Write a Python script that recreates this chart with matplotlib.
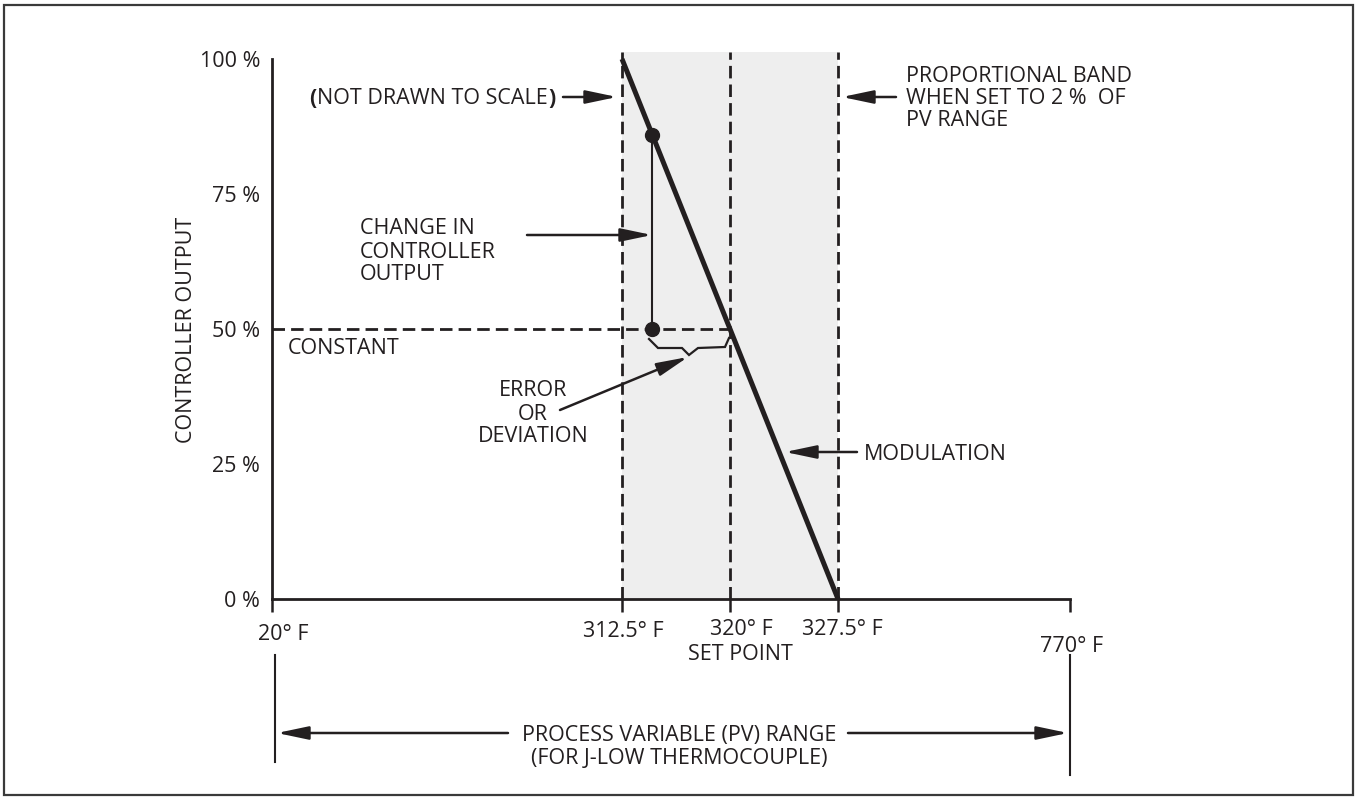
import numpy as np
import matplotlib.pyplot as plt
from matplotlib.lines import Line2D
from matplotlib.patches import Rectangle
from matplotlib.transforms import ScaledTranslation

plt.rcParams['font.family'] = ['Open Sans', 'DejaVu Sans']
plt.rcParams['font.size'] = 15.5
INK = '#231f20'

# chart values
pv_ticks = [20, 312.5, 320, 327.5, 770]
pv_tick_labels = ['20° F', '312.5° F', '320° F', '327.5° F', '']
out_ticks = [0, 25, 50, 75, 100]
out_tick_labels = ['0 %', '25 %', '50 %', '75 %', '100 %']
band_pv = [312.5, 327.5]      # proportional band edges (2 % of PV range)
band_out = [100, 0]           # modulation line: output at band edges
set_point = 320
constant_out = 50
dev_pv = 314.6                # measured PV for the example point
dev_out = 86                  # controller output at that PV

# not drawn to scale: where the PV values sit along the axis (fraction of width)
scale_pv = [20, 312.5, 327.5, 770]
scale_pos = [0, 0.4386, 0.7093, 1]


def fwd(v):
    return np.interp(v, scale_pv, scale_pos)


def inv(p):
    return np.interp(p, scale_pos, scale_pv)


W, H = 1357, 798
fig = plt.figure(figsize=(W / 100, H / 100), dpi=100)

ax = fig.add_axes([272 / W, 1 - 599 / H, 798 / W, 540 / H])
ax.set_xscale('function', functions=(fwd, inv))
ax.set_xlim(20, 770)
ax.set_ylim(0, 100)
ax.patch.set_visible(False)

for s in ['top', 'right']:
    ax.spines[s].set_visible(False)
for s in ['left', 'bottom']:
    ax.spines[s].set_linewidth(2)
    ax.spines[s].set_color(INK)

ax.set_xticks(pv_ticks)
ax.set_xticklabels(pv_tick_labels)
ax.set_yticks(out_ticks)
ax.set_yticklabels(out_tick_labels)
ax.tick_params(axis='x', direction='out', length=9, width=1.8, color=INK,
               pad=7, labelcolor=INK)
ax.tick_params(axis='y', length=0, pad=8.6, labelcolor=INK)

# small nudges of the x tick labels (pixels right, pixels down)
for lab, (dx, dy) in zip(ax.get_xticklabels(),
                         [(11, 3), (1, 0), (11, -2), (4, -2), (0, 0)]):
    lab.set_transform(lab.get_transform() +
                      ScaledTranslation(dx / 100, -dy / 100,
                                        fig.dpi_scale_trans))

dash = (0, (4.5, 2.2))

# proportional band
ax.axvspan(*band_pv, ymin=0, ymax=1.013, color='#eeeeee', lw=0, zorder=0,
           clip_on=False)
ax.vlines(band_pv + [set_point], 0, 101.3, colors=INK, lw=2, linestyles=dash,
          clip_on=False, zorder=1)
ax.hlines(constant_out, 20, set_point, colors=INK, lw=2, linestyles=dash,
          zorder=1)

# modulation line
ax.plot(band_pv, band_out, color=INK, lw=3.6, solid_capstyle='butt',
        clip_on=False, zorder=3)

# change in output
ax.plot([dev_pv, dev_pv], [constant_out, dev_out], color=INK, lw=1.5, zorder=3)
ax.plot([dev_pv, dev_pv], [constant_out, dev_out], 'o', ms=10, color=INK,
        zorder=4)


def label(x, y, s, ha='left', **kw):
    # y is the centre of the capitals, in pixels from the top
    return fig.text(x / W, 1 - (y + 7.5) / H, s, ha=ha, va='baseline',
                    color=INK, **kw)


def arrow(x0, y0, x1, y1):
    ax.annotate('', xy=(x1, H - y1), xytext=(x0, H - y0),
                xycoords='figure pixels', textcoords='figure pixels',
                annotation_clip=False,
                arrowprops=dict(arrowstyle='-|>,head_length=0.95,head_width=0.2',
                                lw=1.8, color=INK, shrinkA=0, shrinkB=0,
                                mutation_scale=20))


def seg(xs, ys, lw=1.6):
    fig.add_artist(Line2D([x / W for x in xs], [1 - y / H for y in ys],
                          transform=fig.transFigure, color=INK, lw=lw,
                          solid_joinstyle='miter'))


# error brace
seg([649, 658, 682, 689, 698, 725, 729], [339, 348, 348, 355, 348, 347, 338])

# annotations
main = label(548, 97, 'NOT DRAWN TO SCALE', ha='right')
ax.annotate('(', xy=(0, 0), xycoords=main, xytext=(-0.5, 0),
            textcoords='offset points', ha='right', va='bottom',
            fontweight='bold', color=INK)
ax.annotate(')', xy=(1, 0), xycoords=main, xytext=(0, 0),
            textcoords='offset points', ha='left', va='bottom',
            fontweight='bold', color=INK)
arrow(563, 97, 617, 97)

for y, s in zip([75, 97, 119], ['PROPORTIONAL BAND', 'WHEN SET TO 2 %  OF',
                                'PV RANGE']):
    label(906, y, s)
arrow(896, 97, 842, 97)

for y, s in zip([226, 250, 273], ['CHANGE IN', 'CONTROLLER', 'OUTPUT']):
    label(360, y, s)
arrow(527, 235, 652, 235)

label(288, 347, 'CONSTANT')

for y, s in zip([388, 412, 435], ['ERROR', 'OR', 'DEVIATION']):
    label(533, y, s, ha='center')
arrow(560, 410, 688, 357)

label(864, 452, 'MODULATION')
arrow(857, 452, 785, 452)

fig.text(186 / W, 1 - 330 / H, 'CONTROLLER OUTPUT', rotation=90, ha='center',
         va='center', color=INK)

label(740, 652, 'SET POINT', ha='center')
label(1072, 645, '770° F', ha='center')

# PV range
seg([275, 275], [655, 762], lw=1.5)
seg([1070, 1070], [655, 775], lw=1.5)
label(679, 733, 'PROCESS VARIABLE (PV) RANGE', ha='center')
label(679, 757, '(FOR J-LOW THERMOCOUPLE)', ha='center')
arrow(508, 733, 277, 733)
arrow(848, 733, 1068, 733)

# outer frame
fig.add_artist(Rectangle((4 / W, 3 / H), 1349 / W, 790 / H,
                         transform=fig.transFigure, fill=False, lw=1.6,
                         ec='#3a3a3a'))

fig.savefig('out.png', dpi=100)
